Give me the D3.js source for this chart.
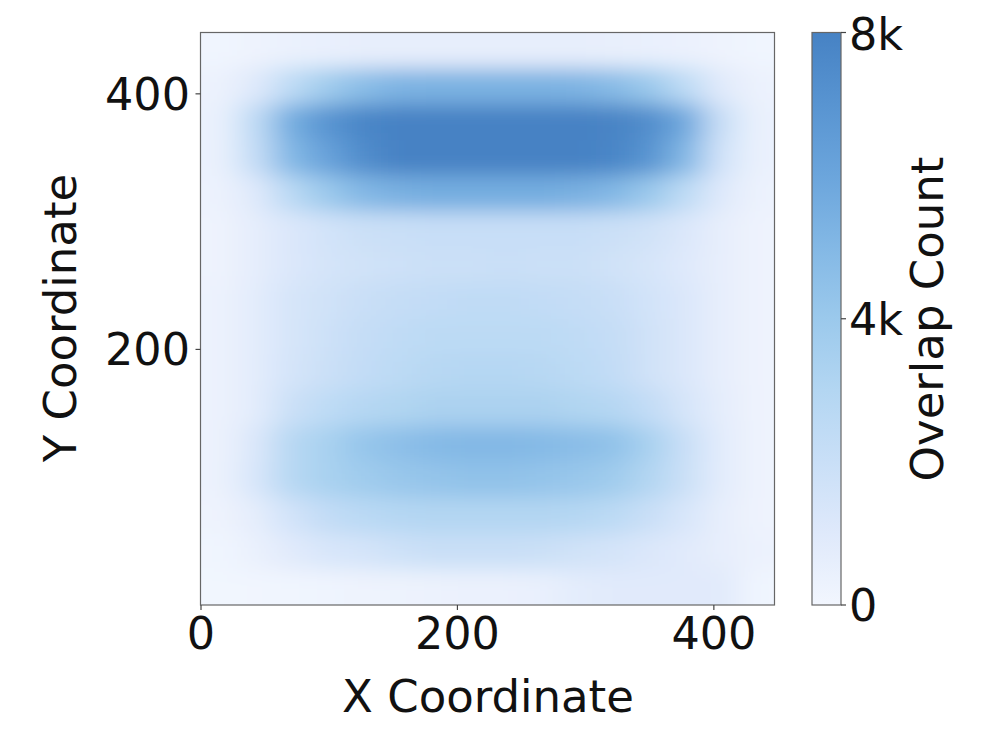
<!DOCTYPE html>
<html><head><meta charset="utf-8">
<style>html,body{margin:0;padding:0;background:#fff}svg{display:block}text{font-family:"DejaVu Sans";fill:#111}</style>
<script src="https://cdn.jsdelivr.net/npm/d3@7"></script></head>
<body><div id="c"></div>
<script>
const xTicks=[0,200,400];
const yTicks=[0,200,400];
const cbTicks=[0,4000,8000];
const cbLabels=["0","4k","8k"];
const xLabel="X Coordinate", yLabel="Y Coordinate", cbLabel="Overlap Count";
const colorStops=["#f2f6fe","#dfe9fb","#c9dff7","#b3d6f2","#9bc9ec","#83b8e5","#6ba5dc","#5894d1","#4682c4"];
// overlap counts in thousands, top row = highest Y
const overlap=[
[.1,.2,.4,.5,.6,.6,.6,.6,.6,.6,.6,.55,.45,.35,.2,.1],
[.3,1,2.5,3.8,4.7,5.2,5.3,5.3,5.3,5.3,5.2,4.8,4,2.5,.9,.3],
[.4,2.4,5.6,7,7.8,8,8,8,8,8,8,7.9,7.4,5.8,2,.4],
[.4,2.2,5,6.2,7.4,8,8,8,8,8,8,7.8,7,5,1.6,.4],
[.3,1,2.7,4,5,5.4,5.6,5.6,5.6,5.6,5.4,5,4,2.5,1,.3],
[.2,.7,1.2,1.6,1.9,2,2.1,2.1,2.1,2.1,2.1,1.9,1.7,1.2,.6,.2],
[.2,.7,1.2,1.5,1.7,1.8,1.9,1.9,2,1.9,1.9,1.7,1.4,1,.6,.2],
[.3,.8,1.4,1.7,2,2.2,2.3,2.4,2.4,2.3,2.2,2,1.6,1.2,.6,.2],
[.3,.8,1.4,1.8,2.2,2.4,2.6,2.6,2.6,2.6,2.4,2.2,1.7,1.2,.6,.2],
[.3,.8,1.5,1.9,2.3,2.6,2.8,2.9,2.9,2.8,2.6,2.3,1.7,1.2,.6,.2],
[.3,.8,1.9,2.5,2.9,3.1,3.3,3.3,3.3,3.3,3.1,2.9,2.3,1.4,.7,.2],
[.3,1.2,2.8,3.4,4.2,4.6,4.9,5,5,4.9,4.7,4.4,3.4,2,.8,.2],
[.3,1.3,2.8,3.4,3.8,4.1,4.3,4.4,4.4,4.3,4.1,3.8,3,1.9,.8,.2],
[.2,.7,1.6,2.3,2.7,2.9,3,3,3,3,2.9,2.6,2,1.3,.6,.2],
[.1,.4,.9,1.3,1.5,1.8,2,2,2,1.9,1.7,1.5,1.2,.9,.6,.3],
[.03,.05,.1,.15,.2,.25,.3,.35,.35,.5,.8,.9,.9,.9,.9,.1]
];
const W=997,H=738, L=200.5,R=774.5,T=32.5,B=605;
const x=d3.scaleLinear().domain([0,448]).range([L+.5,R+.9]);
const y=d3.scaleLinear().domain([0,448]).range([B,T]);
const cb=d3.scaleLinear().domain([0,8000]).range([B,T]);
const color=d3.scaleLinear().domain(colorStops.map((_,i)=>i*1000)).range(colorStops).clamp(true);
const svg=d3.select("#c").append("svg").attr("width",W).attr("height",H);
const defs=svg.append("defs");
const f=defs.append("filter").attr("id","blur").attr("filterUnits","userSpaceOnUse")
 .attr("x",L-70).attr("y",T-70).attr("width",R-L+140).attr("height",B-T+140);
f.append("feGaussianBlur").attr("stdDeviation","15 10");
defs.append("clipPath").attr("id","pc").append("rect").attr("x",L).attr("y",T).attr("width",R-L).attr("height",B-T);
const n=overlap.length,m=overlap[0].length;
const cx=d3.scaleBand().domain(d3.range(m)).range([x(0),x(448)]);
const cy=d3.scaleBand().domain(d3.range(n)).range([y(448),y(0)]);
const pad=70;
const pg=svg.append("g").attr("clip-path","url(#pc)").append("g").attr("filter","url(#blur)");
overlap.forEach((row,j)=>row.forEach((v,i)=>{
 const px0=i===0?cx(i)-pad:cx(i), px1=i===m-1?cx(i)+cx.bandwidth()+pad:cx(i)+cx.bandwidth()+.6;
 const py0=j===0?cy(j)-pad:cy(j), py1=j===n-1?cy(j)+cy.bandwidth()+pad:cy(j)+cy.bandwidth()+.6;
 pg.append("rect").attr("x",px0).attr("y",py0).attr("width",px1-px0).attr("height",py1-py0).attr("fill",color(v*1000));
}));
const frame="#666";
svg.append("rect").attr("x",L).attr("y",T).attr("width",R-L).attr("height",B-T).attr("fill","none").attr("stroke",frame).attr("stroke-width",1.2);
const fs=44.5, fl=45;
xTicks.forEach(t=>{
 svg.append("line").attr("x1",x(t)).attr("x2",x(t)).attr("y1",B).attr("y2",B+5).attr("stroke","#444").attr("stroke-width",1.2);
 svg.append("text").attr("x",x(t)).attr("y",649).attr("text-anchor","middle").attr("font-size",fs).text(t);
});
yTicks.slice(1).forEach(t=>{
 svg.append("line").attr("x1",L-5).attr("x2",L).attr("y1",y(t)).attr("y2",y(t)).attr("stroke","#444").attr("stroke-width",1.2);
 svg.append("text").attr("x",190).attr("y",y(t)+16).attr("text-anchor","end").attr("font-size",fs).text(t);
});
svg.append("text").attr("x",488).attr("y",712).attr("text-anchor","middle").attr("font-size",fl).text(xLabel);
svg.append("text").attr("transform","translate(76,318) rotate(-90)").attr("text-anchor","middle").attr("font-size",fl).text(yLabel);
// colorbar
const g=defs.append("linearGradient").attr("id","cbg").attr("x1",0).attr("x2",0).attr("y1",1).attr("y2",0);
colorStops.forEach((c,i)=>g.append("stop").attr("offset",i/(colorStops.length-1)).attr("stop-color",c));
svg.append("rect").attr("x",812).attr("y",cb(8000)).attr("width",29).attr("height",cb(0)-cb(8000)).attr("fill","url(#cbg)").attr("stroke",frame).attr("stroke-width",1.2);
cbTicks.forEach((t,i)=>{
 svg.append("line").attr("x1",841).attr("x2",846).attr("y1",cb(t)).attr("y2",cb(t)).attr("stroke","#444").attr("stroke-width",1.2);
 svg.append("text").attr("x",849).attr("y",cb(t)+(i===2?17:16)).attr("font-size",fs).text(cbLabels[i]);
});
svg.append("text").attr("transform","translate(943,319) rotate(-90)").attr("text-anchor","middle").attr("font-size",fl).text(cbLabel);
</script></body></html>
